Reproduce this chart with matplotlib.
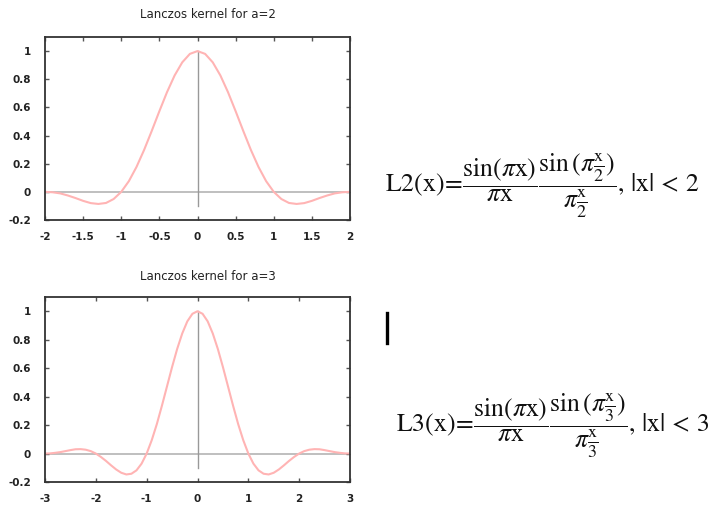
import matplotlib
matplotlib.use("Agg")
import matplotlib.pyplot as plt
from matplotlib.lines import Line2D

# ---- data ----
x_a2 = [-2.0, -1.9, -1.8, -1.7, -1.6, -1.5, -1.4, -1.3, -1.2, -1.1, -1.0,
        -0.9, -0.8, -0.7, -0.6, -0.5, -0.4, -0.3, -0.2, -0.1, 0.0,
        0.1, 0.2, 0.3, 0.4, 0.5, 0.6, 0.7, 0.8, 0.9, 1.0,
        1.1, 1.2, 1.3, 1.4, 1.5, 1.6, 1.7, 1.8, 1.9, 2.0]
y_a2 = [0.0, -0.003, -0.011, -0.026, -0.044, -0.064, -0.080, -0.086, -0.079, -0.051, 0.0,
        0.076, 0.177, 0.298, 0.433, 0.573, 0.708, 0.827, 0.920, 0.980, 1.0,
        0.980, 0.920, 0.827, 0.708, 0.573, 0.433, 0.298, 0.177, 0.076, 0.0,
        -0.051, -0.079, -0.086, -0.080, -0.064, -0.044, -0.026, -0.011, -0.003, 0.0]

x_a3 = [-3.0, -2.9, -2.8, -2.7, -2.6, -2.5, -2.4, -2.3, -2.2, -2.1, -2.0,
        -1.9, -1.8, -1.7, -1.6, -1.5, -1.4, -1.3, -1.2, -1.1, -1.0,
        -0.9, -0.8, -0.7, -0.6, -0.5, -0.4, -0.3, -0.2, -0.1, 0.0,
        0.1, 0.2, 0.3, 0.4, 0.5, 0.6, 0.7, 0.8, 0.9, 1.0,
        1.1, 1.2, 1.3, 1.4, 1.5, 1.6, 1.7, 1.8, 1.9, 2.0,
        2.1, 2.2, 2.3, 2.4, 2.5, 2.6, 2.7, 2.8, 2.9, 3.0]
y_a3 = [0.0, 0.001, 0.005, 0.010, 0.017, 0.024, 0.030, 0.031, 0.027, 0.017, 0.0,
        -0.024, -0.052, -0.083, -0.112, -0.135, -0.147, -0.142, -0.118, -0.071, 0.0,
        0.094, 0.207, 0.336, 0.472, 0.608, 0.735, 0.844, 0.929, 0.982, 1.0,
        0.982, 0.929, 0.844, 0.735, 0.608, 0.472, 0.336, 0.207, 0.094, 0.0,
        -0.071, -0.118, -0.142, -0.147, -0.135, -0.112, -0.083, -0.052, -0.024, 0.0,
        0.017, 0.027, 0.031, 0.030, 0.024, 0.017, 0.010, 0.005, 0.001, 0.0]

titles = ["Lanczos kernel for a=2", "Lanczos kernel for a=3"]
xticks_a2 = [-2, -1.5, -1, -0.5, 0, 0.5, 1, 1.5, 2]
xticklabels_a2 = ["-2", "-1.5", "-1", "-0.5", "0", "0.5", "1", "1.5", "2"]
xticks_a3 = [-3, -2, -1, 0, 1, 2, 3]
xticklabels_a3 = ["-3", "-2", "-1", "0", "1", "2", "3"]
yticks = [-0.2, 0, 0.2, 0.4, 0.6, 0.8, 1]
yticklabels = ["-0.2", "0", "0.2", "0.4", "0.6", "0.8", "1"]

formula_a2 = (r"$\mathrm{L2(x)}\!=\!\dfrac{\mathrm{sin}(\pi\mathrm{x})}{\pi\mathrm{x}}"
              r"\dfrac{\mathrm{sin}\,(\pi\frac{\mathrm{x}}{2})}{\pi\frac{\mathrm{x}}{2}}"
              r",\,|\mathrm{x}|\,<\,2$")
formula_a3 = (r"$\mathrm{L3(x)}\!=\!\dfrac{\mathrm{sin}(\pi\mathrm{x})}{\pi\mathrm{x}}"
              r"\dfrac{\mathrm{sin}\,(\pi\frac{\mathrm{x}}{3})}{\pi\frac{\mathrm{x}}{3}}"
              r",\,|\mathrm{x}|\,<\,3$")

W, H = 726, 505
fig = plt.figure(figsize=(W / 100, H / 100), dpi=100)
plt.rcParams['mathtext.fontset'] = 'stix'

def px_axes(l, t, r, b):
    return fig.add_axes([l / W, 1 - b / H, (r - l) / W, (b - t) / H])

curve_color = "#ffb4b4"
zero_color = "#b4b4b4"

panels = [
    (px_axes(45, 37, 350, 220), x_a2, y_a2, (-2, 2), xticks_a2, xticklabels_a2, titles[0], 15),
    (px_axes(45, 297, 350, 482), x_a3, y_a3, (-3, 3), xticks_a3, xticklabels_a3, titles[1], 276),
]

for ax, xs, ys, xl, xt, xtl, title, ty in panels:
    ax.set_xlim(*xl)
    ax.set_ylim(-0.2, 1.1)
    ax.axhline(0, color=zero_color, lw=1.2, zorder=1)
    ax.plot([0, 0], [-0.1, 1.0], color="#999999", lw=1.0, zorder=1)
    ax.plot(xs, ys, color=curve_color, lw=1.5, zorder=2)
    ax.set_xticks(xt)
    ax.set_xticklabels(xtl, fontsize=7.5, fontweight="bold", color="#222222")
    ax.set_yticks(yticks)
    ax.set_yticklabels(yticklabels, fontsize=7.5, fontweight="bold", color="#222222")
    ax.tick_params(axis="x", direction="in", length=3, width=1, color="#555555",
                   top=True, pad=9)
    ax.tick_params(axis="y", direction="in", length=3, width=1, color="#555555",
                   right=True, pad=10)
    for s in ax.spines.values():
        s.set_linewidth(1.3)
        s.set_color("#333333")
    fig.text(208 / W, 1 - ty / H, title, fontsize=8.5, color="#222222",
             ha="center", va="center")

fig.text(385 / W, 1 - 186 / H, formula_a2, fontsize=18.5, ha="left", va="center", color="#111111")
fig.text(396 / W, 1 - 426 / H, formula_a3, fontsize=18.5, ha="left", va="center", color="#111111")

# text cursor mark
fig.add_artist(Line2D([386.5 / W, 386.5 / W], [1 - 313 / H, 1 - 343 / H],
                      transform=fig.transFigure, color="black", lw=2.4))

fig.savefig("out.png", dpi=100)
